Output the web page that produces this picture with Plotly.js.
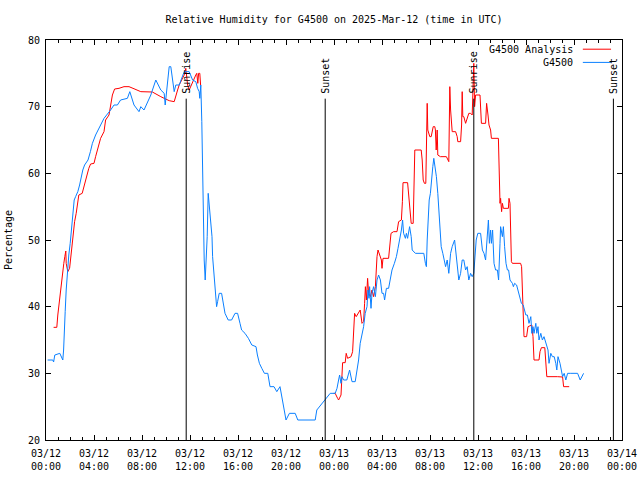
<!DOCTYPE html>
<html>
<head>
<meta charset="utf-8">
<script src="https://cdn.plot.ly/plotly-3.0.1.min.js"></script>
<style>
html,body{margin:0;padding:0;background:#ffffff;}
#chart{width:640px;height:480px;}
</style>
</head>
<body>
<div id="chart"></div>
<script>
// ---------------- data ----------------
const chartTitle = 'Relative Humidity for G4500 on 2025-Mar-12 (time in UTC)';
const yAxisTitle = 'Percentage';
const seriesNames = ['G4500 Analysis', 'G4500'];

// day + time strings (March 2025, UTC)
const analysisTimes = [
 '12 00:38','12 00:54','12 00:59','12 01:08','12 01:16','12 01:24','12 01:29','12 01:34','12 01:39','12 01:41',
 '12 01:49','12 01:58','12 02:06','12 02:14','12 02:23','12 02:31','12 02:39','12 02:44','12 03:01','12 03:09',
 '12 03:18','12 03:26','12 03:34','12 03:43','12 04:00','12 04:08','12 04:15','12 04:33','12 04:50','12 04:58',
 '12 05:15','12 05:23','12 05:32','12 05:43','12 06:05','12 06:30','12 06:55','12 07:15','12 07:37','12 07:54',
 '12 08:52','12 09:17','12 09:34','12 09:51','12 10:16','12 10:41','12 10:49','12 10:58','12 11:06','12 11:14',
 '12 11:23','12 11:31','12 11:39','12 11:48','12 11:56','12 12:09','12 12:21','12 12:29','12 12:34','12 12:39',
 '12 12:43','12 12:49','12 12:53','12 13:00',
 '12 23:58','13 00:06','13 00:18','13 00:23','13 00:35','13 00:40','13 00:43','13 00:56','13 01:01','13 01:08',
 '13 01:25','13 01:33','13 01:38','13 01:43','13 01:51','13 02:03','13 02:11','13 02:20','13 02:28','13 02:33',
 '13 02:37','13 02:42','13 02:48','13 02:53','13 03:02','13 03:10','13 03:18','13 03:27','13 03:32','13 03:35',
 '13 03:40','13 03:45','13 03:52','13 03:57','13 04:00','13 04:05','13 04:33','13 04:38','13 04:45','13 04:58',
 '13 05:15','13 05:23','13 05:37','13 05:42','13 05:45','13 06:08','13 06:14','13 06:22','13 06:26','13 06:36',
 '13 06:39','13 06:44','13 07:16','13 07:21','13 07:26','13 07:32','13 07:39','13 07:42','13 07:46','13 07:49',
 '13 07:54','13 07:59','13 08:06','13 08:11','13 08:16','13 08:24','13 08:27','13 08:31','13 08:36','13 08:39',
 '13 08:52','13 09:22','13 09:29','13 09:34','13 09:39','13 09:43','13 09:51','13 10:08','13 10:16','13 10:19',
 '13 10:33','13 10:38','13 10:41','13 10:44','13 10:49','13 10:58','13 11:14','13 11:23','13 11:31','13 11:36',
 '13 11:39','13 11:43','13 11:48','13 12:10','13 12:13','13 12:17','13 12:38','13 12:43','13 12:50','13 12:55',
 '13 13:03','13 13:07','13 13:42','13 13:45','13 13:50','13 13:53','13 13:58','13 14:02','13 14:07','13 14:32',
 '13 14:35','13 14:40','13 14:43','13 14:47','13 14:52','13 15:17','13 15:25','13 15:33','13 15:38','13 15:42',
 '13 15:47','13 15:50','13 16:03','13 16:10','13 16:29','13 16:35','13 16:40','13 17:05','13 17:10','13 17:17',
 '13 17:34','13 17:39','13 17:44','13 18:37','13 19:03','13 19:08','13 19:36'
];
const analysisValues = [
 36.9,36.9,38.75,41.25,43.75,45,46.5,47.5,48.35,46.5,
 45.25,45.75,48,50.5,52.75,54,56,56.75,57,58,
 59,60,60.75,61.4,61.5,62.5,63.25,65.25,66.25,68,
 68.75,70.25,71.75,72.65,72.75,73,73,72.75,72.5,72.25,
 72.2,71.85,71.5,71.25,70.9,70.75,71.75,72.5,73.25,73.75,
 74.25,74.75,75.75,73.25,72.5,73.5,74.25,74.75,75,73.5,
 75,75,73.25,null,
 27,27,26.25,26,26.75,29,31.6,31.6,33,32.25,
 32.5,33.25,35.5,39,38.5,39,39.5,37.5,37.75,40.5,
 43,41,44.25,42,41.5,42.5,41.5,43,46,47.5,
 48.5,48,47.5,47,45.75,47.25,47.25,49.5,51,51.25,
 51.25,52.75,53,55.75,58.6,58.6,56.75,53.75,52.5,52.5,
 58,63.5,63.5,62,59,58.5,58.5,64.5,70.5,66.5,
 66,65.5,65.5,66.25,67,67,66.5,63.5,66.5,62.75,
 62.5,62.5,62,61.75,73,69.5,66.25,66.25,65.5,64.75,
 64.75,67.25,72.25,68.5,68.5,67.5,69,69,68.75,72.5,
 76.5,70,71.75,71.75,69.75,67.5,67.5,70.5,68.75,67.25,
 66.5,65.25,65.25,60.25,55.5,56.25,54.25,55.5,54.75,54.75,
 56.25,55.5,51.5,46.75,46.5,46.5,46.6,46.5,46,41.5,
 37,35.5,35.5,37,37.25,35.5,32,32,33.25,33.85,
 33.85,31.5,29.5,29.5,29.45,28,28
];

const stationTimes = [
 '12 00:08','12 00:34','12 00:38','12 00:44','12 01:09','12 01:24','12 01:28','12 01:31','12 01:36','12 01:41',
 '12 01:46','12 01:54','12 02:01','12 02:06','12 02:14','12 02:21','12 02:28','12 02:39','12 02:48','12 02:56',
 '12 03:04','12 03:13','12 03:30','12 03:42','12 03:52','12 04:08','12 04:33','12 04:50','12 05:23','12 05:40',
 '12 05:57','12 06:13','12 06:47','12 06:59','12 07:20','12 07:45','12 07:54','12 08:10','12 08:44','12 09:09',
 '12 09:34','12 09:51','12 09:56','12 10:08','12 10:16','12 10:24','12 10:33','12 10:41','12 10:49','12 11:06',
 '12 11:31','12 11:56','12 12:13','12 12:29','12 12:38','12 12:46','12 12:49','12 12:54','12 12:59','12 13:03',
 '12 13:06','12 13:11','12 13:16','12 13:20','12 13:26','12 13:31','12 13:36','12 13:43','12 13:50','12 13:53',
 '12 14:00','12 14:05','12 14:13','12 14:18','12 14:26','12 14:38','12 14:46','12 14:55','12 15:11','12 15:28',
 '12 15:45','12 15:58','12 16:10','12 16:18','12 16:35','12 16:52','12 17:09','12 17:30','12 17:37','12 17:47',
 '12 17:59','12 18:12','12 18:29','12 18:40','12 19:00','12 19:14','12 19:30','12 19:40','12 19:50','12 20:00',
 '12 20:17','12 20:46','12 20:59','12 22:26','12 22:34','12 22:47','12 23:04','12 23:21','12 23:41',
 '13 00:06','13 00:15','13 00:23','13 00:28','13 00:35','13 00:40','13 00:48','13 01:04','13 01:18','13 01:30',
 '13 01:46','13 01:55','13 02:03','13 02:11','13 02:20','13 02:28','13 02:36','13 02:45','13 02:50','13 02:55',
 '13 02:58','13 03:05','13 03:10','13 03:18','13 03:27','13 03:35','13 03:43','13 03:52','13 04:00','13 04:08',
 '13 04:13','13 04:22','13 04:33','13 04:42','13 04:50','13 05:02','13 05:12','13 05:20','13 05:28','13 05:37',
 '13 05:43','13 05:48','13 05:57','13 06:02','13 06:08','13 06:18','13 06:26','13 06:31','13 06:47','13 07:29',
 '13 07:37','13 07:42','13 07:46','13 07:51','13 07:56','13 08:02','13 08:07','13 08:14','13 08:19','13 08:25',
 '13 08:32','13 08:39','13 08:44','13 08:49','13 08:56','13 09:04','13 09:12','13 09:18','13 09:26','13 09:34',
 '13 09:43','13 09:51','13 10:03','13 10:09','13 10:16','13 10:24','13 10:33','13 10:41','13 10:49','13 10:58',
 '13 11:06','13 11:14','13 11:23','13 11:31','13 11:39','13 11:46','13 11:51','13 11:59','13 12:13','13 12:22',
 '13 12:30','13 12:38','13 12:47','13 12:52','13 12:57','13 13:03','13 13:07','13 13:13','13 13:20','13 13:28',
 '13 13:37','13 13:43','13 13:50','13 13:53','13 14:02','13 14:07','13 14:13','13 14:20','13 14:27','13 14:33',
 '13 14:40','13 14:52','13 14:57','13 15:03','13 15:13','13 15:20','13 15:27','13 15:37','13 15:46','13 15:54',
 '13 15:59','13 16:07','13 16:15','13 16:24','13 16:29','13 16:35','13 16:40','13 16:49','13 16:54','13 17:00',
 '13 17:05','13 17:14','13 17:22','13 17:30','13 17:39','13 17:50','13 17:55','13 18:04','13 18:12','13 18:21',
 '13 18:29','13 18:34','13 18:40','13 18:50','13 19:03','13 19:11','13 19:19','13 19:28','13 19:44','13 20:18',
 '13 20:31','13 20:48'
];
const stationValues = [
 32,32,31.7,32.75,33,32,33.5,36.5,39.3,42.5,
 45,47.75,49.5,51.2,54,56,56.5,57.25,58.25,59.5,
 60.5,61.25,62,63.25,64.5,65.75,67.25,68.25,69.5,70.25,
 70.25,71,71.25,72.25,70.25,69.25,70,69.5,71.75,74,
 72.5,72,70.25,74.25,76,76,73.75,72.25,73.25,73.25,
 75.25,75.25,74,73.75,72.75,72.25,71.25,73.25,67.75,59.75,
 53.5,47,44,46.5,50.5,57,55,53,50.5,47.5,
 44.5,42,40,40.75,42,42,40.5,39,38,38,
 39,39,37.5,36.5,36,35.25,34.25,34,32.75,31.5,
 30.75,30,30,28,28,27.25,28,26.5,25,23,
 24,24,23,23,24.5,25,25.75,26.25,27,
 27,27.75,29,29.75,28.5,29.5,29,29,30.5,28.75,
 28.75,30.25,32,34.5,36,37,39,40,42.5,41.25,
 43,39.75,42,43,41.5,44,44.75,44,42,42,
 41,42.75,42.75,44.5,45.5,46.5,47.5,48.75,50,51.5,
 53,51,50.25,51,50.25,52,50.5,48.5,48,48,
 46.5,46,50,53,56,57,59,61,62.25,61,
 59.5,57,54.5,51,49,48,47,46,47,45,
 48,49,50,48,46,44,45,47,47,45.5,
 46,44,45,44.5,45,47.5,50,51,51,48.5,
 48,47,50.5,53,49.5,51.5,49.5,51.5,46.5,45.5,
 45.5,44,49.5,52,50.5,52,49,46.5,45.5,45.5,
 44,43.5,43,43.5,43.25,42.5,41.5,40.5,40.25,39.5,
 38.75,38.75,37.5,38.5,36,37,36,37.5,36,37,
 35,36,35,35.5,34.5,33.5,31.5,33,32.5,32.5,
 31.5,30.5,32.5,31.5,29.5,30,29,30,30,30,
 29,30
];

const sunEventTimes = ['12 11:41', '12 23:16', '13 11:39', '13 23:17'];
const sunEventLabels = ['Sunrise', 'Sunset', 'Sunrise', 'Sunset'];

const xTickTimes = ['12 00:00','12 04:00','12 08:00','12 12:00','12 16:00','12 20:00','13 00:00',
                    '13 04:00','13 08:00','13 12:00','13 16:00','13 20:00','14 00:00'];
const xTickLabels = ['03/12<br>00:00','03/12<br>04:00','03/12<br>08:00','03/12<br>12:00','03/12<br>16:00',
                     '03/12<br>20:00','03/13<br>00:00','03/13<br>04:00','03/13<br>08:00','03/13<br>12:00',
                     '03/13<br>16:00','03/13<br>20:00','03/14<br>00:00'];
const yTickValues = [20, 30, 40, 50, 60, 70, 80];

// ---------------- build ----------------
const toDate = s => '2025-03-' + s;
const FONT = 'DejaVu Sans Mono, Liberation Mono, monospace';
const RED = '#ff0000';
const BLUE = '#0a80ff';
const sunLineTop = 71.2;

const traces = [
  {
    type: 'scatter', mode: 'lines', name: seriesNames[0],
    x: analysisTimes.map(toDate), y: analysisValues,
    line: {color: RED, width: 1}, connectgaps: false, showlegend: false
  },
  {
    type: 'scatter', mode: 'lines', name: seriesNames[1],
    x: stationTimes.map(toDate), y: stationValues,
    line: {color: BLUE, width: 1}, showlegend: false
  }
];

const shapes = sunEventTimes.map(t => ({
  type: 'line', xref: 'x', yref: 'y',
  x0: toDate(t), x1: toDate(t), y0: 20, y1: sunLineTop,
  line: {color: '#000000', width: 1}, layer: 'above'
}));

const annotations = sunEventTimes.map((t, i) => ({
  xref: 'x', yref: 'y', x: toDate(t), y: sunLineTop,
  text: sunEventLabels[i], textangle: -90, showarrow: false,
  xanchor: 'center', yanchor: 'bottom', yshift: 3,
  font: {family: FONT, size: 10, color: '#000000'}
}));

// gnuplot-style key: text right-aligned, line sample on the right
const keyColors = [RED, BLUE];
const keyRows = [0.977, 0.944];
seriesNames.forEach((name, i) => {
  annotations.push({
    xref: 'paper', yref: 'paper', x: 0.918, y: keyRows[i],
    text: name, showarrow: false, xanchor: 'right', yanchor: 'middle',
    font: {family: FONT, size: 10, color: '#000000'}
  });
  shapes.push({
    type: 'line', xref: 'paper', yref: 'paper',
    x0: 0.932, x1: 0.981, y0: keyRows[i], y1: keyRows[i],
    line: {color: keyColors[i], width: 1}
  });
});

const layout = {
  width: 640, height: 480,
  paper_bgcolor: '#ffffff', plot_bgcolor: '#ffffff',
  margin: {l: 46, r: 18, t: 40, b: 40, pad: 0},
  font: {family: FONT, size: 10, color: '#000000'},
  title: {
    text: chartTitle, font: {family: FONT, size: 10, color: '#000000'},
    x: 0.5, xref: 'paper', y: 1 - 19 / 480, yref: 'container', yanchor: 'middle'
  },
  xaxis: {
    type: 'date',
    range: [toDate('12 00:00'), toDate('14 00:00')],
    tickmode: 'array', tickvals: xTickTimes.map(toDate), ticktext: xTickLabels,
    ticks: 'inside', ticklen: 5, tickwidth: 1, tickcolor: '#000000',
    ticklabelstandoff: 4,
    minor: {tickmode: 'linear', tick0: toDate('12 00:00'), dtick: 3600000,
            ticks: 'inside', ticklen: 3, tickwidth: 1, tickcolor: '#000000', showgrid: false},
    showline: true, linecolor: '#000000', linewidth: 1, mirror: 'ticks',
    showgrid: false, zeroline: false,
    tickfont: {family: FONT, size: 10, color: '#000000'}
  },
  yaxis: {
    range: [20, 80],
    tickmode: 'array', tickvals: yTickValues, ticktext: yTickValues.map(String),
    ticks: 'inside', ticklen: 5, tickwidth: 1, tickcolor: '#000000',
    ticklabelstandoff: 3,
    showline: true, linecolor: '#000000', linewidth: 1, mirror: 'ticks',
    showgrid: false, zeroline: false,
    tickfont: {family: FONT, size: 10, color: '#000000'},
    title: {text: yAxisTitle, font: {family: FONT, size: 10, color: '#000000'}, standoff: 13}
  },
  shapes: shapes,
  annotations: annotations,
  showlegend: false
};

Plotly.newPlot('chart', traces, layout, {staticPlot: true, displayModeBar: false});
</script>
</body>
</html>
